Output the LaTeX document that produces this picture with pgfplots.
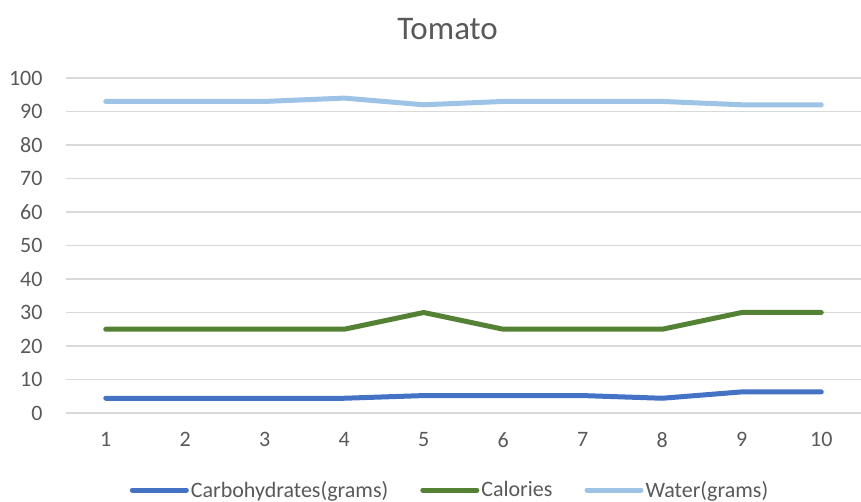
\documentclass[border=0pt]{standalone}
\usepackage{fontspec}
\setmainfont{Carlito}
\usepackage{pgfplots}
\pgfplotsset{compat=1.18}
\definecolor{carbs}{HTML}{4472C4}
\definecolor{cal}{HTML}{548235}
\definecolor{water}{HTML}{9DC3E6}
\definecolor{gridc}{HTML}{D9D9D9}
\definecolor{txt}{HTML}{595959}
\begin{document}
\begin{tikzpicture}
\useasboundingbox (0pt,0pt) rectangle (861pt,502pt);
\begin{axis}[
  at={(66pt,89pt)}, anchor=south west,
  width=795pt, height=335pt, scale only axis,
  xmin=0.5, xmax=10.5, ymin=0, ymax=100,
  xtick={1,...,10}, ytick={0,10,...,100},
  axis line style={draw=none},
  major tick length=0pt,
  ymajorgrids, grid style={gridc, line width=1.3pt},
  tick label style={font=\fontsize{22}{26}\selectfont, text=txt},
  /pgf/number format/assume math mode=true,
  yticklabel style={xshift=-20pt},
  xticklabel style={yshift=-16pt},
  title={Tomato},
  title style={font=\fontsize{33}{38}\selectfont, text=txt,
    at={(0.48,1)}, anchor=center, yshift=43pt},
  legend style={at={(0.483,-0.23)}, anchor=center, draw=none,
    legend columns=3, font=\fontsize{22}{26}\selectfont, text=txt,
    /tikz/every even column/.append style={column sep=30pt}},
  legend image code/.code={\draw[#1, line width=5pt, line cap=round] (0pt,0pt) -- (54pt,0pt);},
  every axis plot/.append style={line width=5pt, line join=round, line cap=round},
]
\addplot[carbs, mark=none] coordinates {(1,4.4)(2,4.4)(3,4.4)(4,4.4)(5,5.2)(6,5.2)(7,5.2)(8,4.4)(9,6.3)(10,6.3)};
\addlegendentry{Carbohydrates(grams)}
\addplot[cal, mark=none] coordinates {(1,25)(2,25)(3,25)(4,25)(5,30)(6,25)(7,25)(8,25)(9,30)(10,30)};
\addlegendentry{Calories}
\addplot[water, mark=none] coordinates {(1,93)(2,93)(3,93)(4,94)(5,92)(6,93)(7,93)(8,93)(9,92)(10,92)};
\addlegendentry{Water(grams)}
\end{axis}
\end{tikzpicture}
\end{document}
